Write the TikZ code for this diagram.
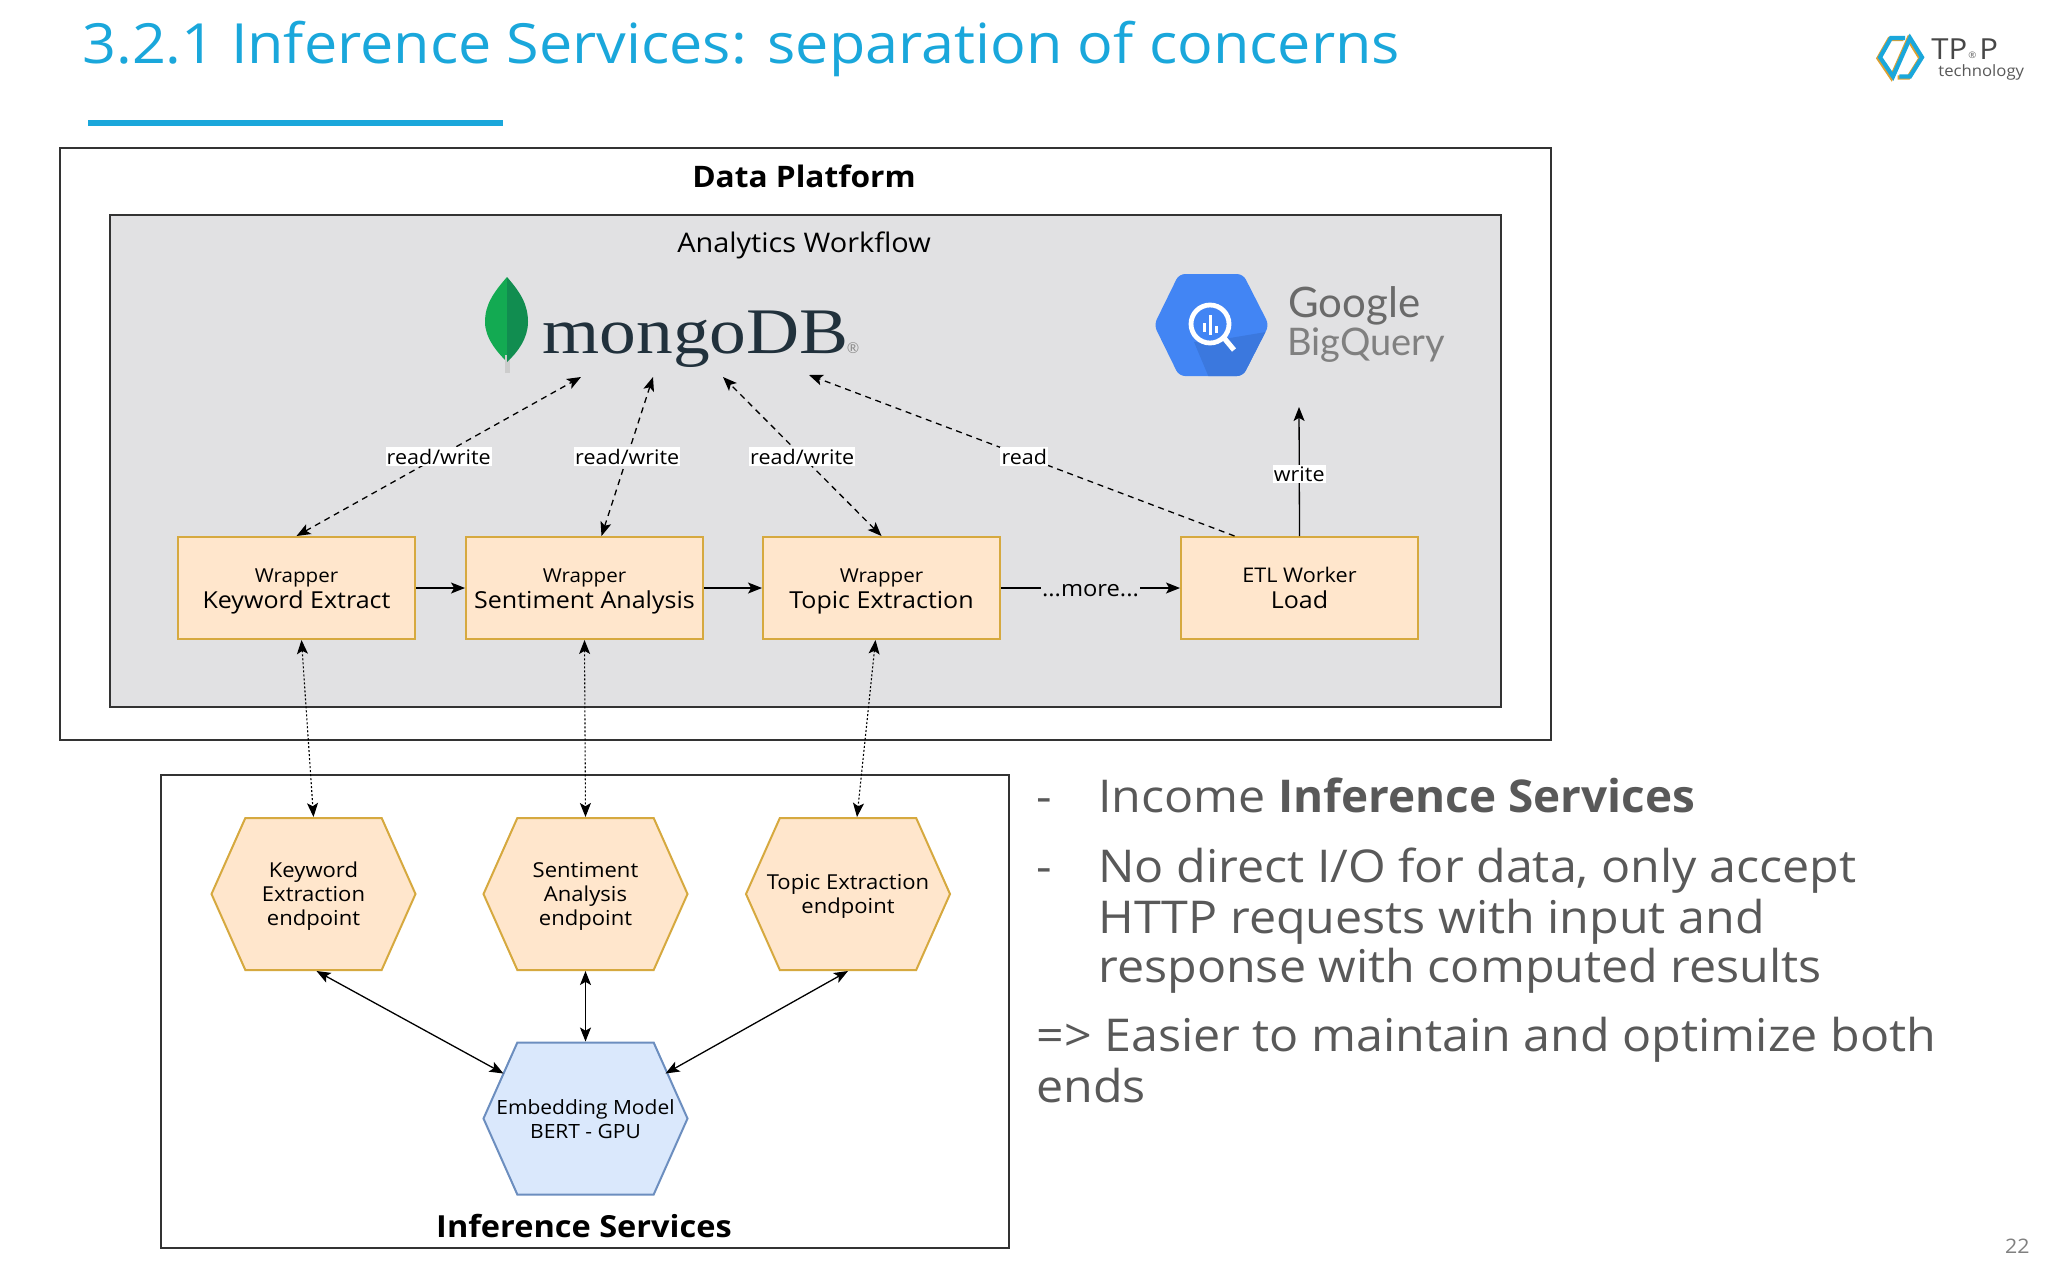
\documentclass[tikz,border=0pt]{standalone}
\usepackage{fontspec}
\setmainfont[FakeStretch=1.07]{Open Sans}
\newfontfamily\bodybold[FakeStretch=1.015]{Open Sans}
\newfontfamily\logoserif[FakeStretch=1.13]{Liberation Serif}
\newfontfamily\logosans{Lato}
\usetikzlibrary{arrows.meta,calc,shapes.symbols}
\definecolor{titleblue}{HTML}{1AA7DB}
\definecolor{panelgray}{HTML}{E1E1E3}
\definecolor{peach}{HTML}{FFE6CC}
\definecolor{gold}{HTML}{D6A93F}
\definecolor{paleblue}{HTML}{DAE8FC}
\definecolor{steel}{HTML}{6C8EBF}
\definecolor{bodygray}{HTML}{595959}
\definecolor{mongotext}{HTML}{21313C}
\definecolor{leafa}{HTML}{13AA52}
\definecolor{leafb}{HTML}{118D50}
\definecolor{gblue}{HTML}{4285F4}
\definecolor{gdark}{HTML}{3B78DE}
\definecolor{ggray}{HTML}{6A6A6A}
\newcommand\fsz[2]{\fontsize{#1}{#2}\selectfont}
\newcommand\cellstack[1]{\begin{tabular}{@{}c@{}}#1\end{tabular}}
\newcommand\wraptext[1]{\vbox{\kern2pt\hbox{\cellstack{#1}}}}
\newcommand\hextext[1]{\vbox{\kern3pt\hbox{\makebox[0pt]{\cellstack{#1}}}}}
\tikzset{
  panel/.style={draw=black!80,line width=1pt,inner sep=0pt},
  wrapbox/.style={draw=gold,fill=peach,line width=1pt,minimum width=118.5pt,minimum height=51pt,inner sep=0pt,font=\fsz{11.7}{13}},
  hexbox/.style={signal,signal to=west and east,signal pointer angle=132,draw=gold,fill=peach,line width=1pt,minimum width=102pt,minimum height=76pt,inner sep=0pt,font=\fsz{10.3}{11.9}},
  bluehex/.style={hexbox,draw=steel,fill=paleblue},
  link/.style={line width=0.65pt,black},
  rwlink/.style={link,dash pattern=on 3pt off 2.4pt,{Stealth[length=7pt,width=5.5pt,inset=1.6pt]}-{Stealth[length=7pt,width=5.5pt,inset=1.6pt]}},
  readlink/.style={link,dash pattern=on 3pt off 2.4pt,-{Stealth[length=7pt,width=5.5pt,inset=1.6pt]}},
  dotlink/.style={link,line width=0.55pt,dash pattern=on 1pt off 1pt,{Stealth[length=7pt,width=5.5pt,inset=1.6pt]}-{Stealth[length=7pt,width=5.5pt,inset=1.6pt]}},
  both/.style={link,{Stealth[length=7pt,width=5.5pt,inset=1.6pt]}-{Stealth[length=7pt,width=5.5pt,inset=1.6pt]}},
  single/.style={link,-{Stealth[length=7pt,width=5.5pt,inset=1.6pt]}},
  edgelabel/.style={fill=white,inner xsep=0.6pt,inner ysep=0.8pt,font=\fsz{10.05}{12}},
  bodytext/.style={text=bodygray,anchor=north west,inner sep=0pt,align=left,font=\fsz{22.6}{24.5}},
}
\begin{document}
\begin{tikzpicture}[x=0.5pt,y=-0.5pt]
\useasboundingbox (0,0) rectangle (2048,1280);
\fill[white] (0,0) rectangle (2048,1280);
% title
\node[anchor=base west,inner sep=0pt,text=titleblue,font=\fsz{27.7}{30}] (title) at (82,63) {3.2.1 Inference Services: separation of concerns};
\coordinate (ruleA) at (88,123); \coordinate (ruleB) at (503,123);
\draw[titleblue,line width=2.6pt] (ruleA) -- (ruleB);
% TP&P logo
\begin{scope}[line width=2.1pt,line join=miter]
\draw[gold!80!orange,shift={(-1.6,1)}] (1905,38)--(1891,38)--(1880,57.3)--(1893,76.5)--(1910,38)--(1922,57.3)--(1910,76.5)--(1899.3,76.5);
\draw[titleblue] (1905,38)--(1891,38)--(1880,57.3)--(1893,76.5)--(1910,38)--(1922,57.3)--(1910,76.5)--(1899.3,76.5);
\end{scope}
\node[anchor=base west,inner sep=0pt,text=black!72,font=\fsz{14.5}{15}] (tp) at (1931,59) {TP};
\node[anchor=base west,inner sep=0pt,text=black!60,font=\fsz{4.5}{5}] (tpr) at (1968,58) {®};
\node[anchor=base west,inner sep=0pt,text=black!72,font=\fsz{14.5}{15}] (tpp) at (1979,59) {P};
\node[anchor=base west,inner sep=0pt,text=black!65,font=\fsz{7.8}{9}] (tech) at (1938,76) {technology};
% outer panels
\node[panel,fill=white,minimum width=745.7pt,minimum height=296pt,anchor=north west] (platform) at (59,147) {};
\node[panel,fill=panelgray,minimum width=695.5pt,minimum height=246pt,anchor=north west] (workflow) at (109,214) {};
\node[panel,fill=white,minimum width=424pt,minimum height=236.7pt,anchor=north west] (inference) at (160,774) {};
\node[font=\bfseries\fsz{14.8}{17}] (platformlabel) at (804,176) {Data Platform};
\node[font=\fsz{13.5}{15}] (workflowlabel) at (804,245) {Analytics Workflow};
\node[font=\bfseries\fsz{15.2}{17}] (inferencelabel) at (584,1226) {Inference Services};
% mongo leaf
\fill[leafa] (507,277) .. controls (493,293) and (485,305) .. (485,322) .. controls (485,338) and (497,352) .. (507,362) -- cycle;
\fill[black!20] (504.5,355) rectangle (509.5,373);
\fill[leafb] (507,277) .. controls (521,293) and (528,305) .. (528,322) .. controls (528,338) and (518,352) .. (507,362) -- cycle;
\node[anchor=base west,inner sep=0pt,text=mongotext,font=\logoserif\fsz{32.5}{34}] (mongoword) at (542,353) {mongoDB};
\node[anchor=center,inner sep=0pt,text=black!45,font=\logosans\fsz{7.5}{8}] (mongoreg) at (853,348) {®};
% BigQuery logo
\begin{scope}[xshift=-1pt]
\fill[gblue,rounded corners=3pt] (1156,325)--(1181,274)--(1245,274)--(1271,325)--(1245,376)--(1181,376)--cycle;
\begin{scope}
\clip[rounded corners=3pt] (1156,325)--(1181,274)--(1245,274)--(1271,325)--(1245,376)--(1181,376)--cycle;
\fill[gdark] (1226,339)--(1280,330)--(1280,380)--(1212,380)--(1196,342)--cycle;
\end{scope}
\draw[white,line width=2.4pt] (1212,324) circle[radius=19];
\draw[white,line width=2.6pt] (1226,338) -- (1236,350);
\fill[white] (1204.5,323) rectangle (1207.5,332);
\fill[white] (1210.5,315) rectangle (1213.5,335);
\fill[white] (1216.5,326) rectangle (1219.5,333);
\end{scope}
\node[anchor=base west,inner sep=0pt,text=ggray,font=\logosans\fsz{21}{23}] (googleword) at (1288,317) {Google};
\node[anchor=base west,inner sep=0pt,text=black!50,font=\logosans\fsz{19}{21}] (bqword) at (1287,355) {BigQuery};
% free ends at the logos
\coordinate (m1) at (581,377);
\coordinate (m2) at (653,377);
\coordinate (m3) at (723,377);
\coordinate (m4) at (809,375);
\coordinate (bq) at (1299,407);
% wrapper boxes
\node[wrapbox] (b1) at (296.5,588) {\wraptext{{\fsz{9.6}{12}Wrapper}\\Keyword Extract}};
\node[wrapbox] (b2) at (584.5,588) {\wraptext{{\fsz{9.6}{12}Wrapper}\\Sentiment Analysis}};
\node[wrapbox] (b3) at (881.5,588) {\wraptext{{\fsz{9.6}{12}Wrapper}\\Topic Extraction}};
\node[wrapbox] (b4) at (1299.5,588) {\wraptext{{\fsz{10.1}{12}ETL Worker}\\Load}};
% hexagons
\node[hexbox] (k) at (313.5,894) {\hextext{Keyword\\Extraction\\endpoint}};
\node[hexbox] (s) at (585.5,894) {\hextext{Sentiment\\Analysis\\endpoint}};
\node[hexbox] (t) at (848,894) {\hextext{Topic Extraction\\endpoint}};
\node[bluehex] (e) at (585.5,1118.5) {\fsz{9.8}{11.9}\hextext{Embedding Model\\BERT - GPU}};
% right column
\node[bodytext] (d1) at (1036,777.5) {\strut-};
\node[bodytext] (p1) at (1098,777.5) {\strut Income {\bodybold\bfseries Inference Services}};
\node[bodytext] (d2) at (1036,847.5) {\strut-};
\node[bodytext] (p2) at (1098,847.5) {\strut No direct I/O for data, only accept\\HTTP requests with input and\\response with computed results};
\node[bodytext] (p3) at (1036,1017) {\strut => Easier to maintain and optimize both\\ends};
\node[anchor=east,inner sep=0pt,text=black!50,font=\fsz{10}{12}] (pageno) at (2030,1246) {22};
% connectors
\draw[rwlink] (b1.north) -- node[edgelabel,pos=.5] (l1) {read/write} (m1);
\draw[rwlink] ($(b2.north)+(17,0)$) -- node[edgelabel,pos=.5] (l2) {read/write} (m2);
\draw[rwlink] (b3.north) -- node[edgelabel,pos=.5] (l3) {read/write} (m3);
\draw[readlink] ($(b4.north)+(-65,0)$) -- node[edgelabel,pos=.494] (l4) {read} (m4);
\draw[single] (b4.north) -- node[edgelabel,pos=.48] (l5) {write} (bq);
\draw[single] (b1.east) -- (b2.west);
\draw[single] (b2.east) -- (b3.west);
\draw[single] (b3.east) -- node[fill=panelgray,inner xsep=0.5pt,inner ysep=0.8pt,font=\fsz{11.1}{13},pos=.5,yshift=-1.2pt] (l6) {...more...} (b4.west);
\draw[dotlink] ($(b1.south)+(5,0)$) -- (k.north);
\draw[dotlink] (b2.south) -- (s.north);
\draw[dotlink] ($(b3.south)+(-6,0)$) -- ($(t.north)+(9,0)$);
\draw[both] ($(k.south)+(3,0)$) -- ($(e.center)+(-82,-45)$);
\draw[both] (s.south) -- (e.north);
\draw[both] (t.south) -- ($(e.center)+(80,-45)$);
\end{tikzpicture}
\end{document}
